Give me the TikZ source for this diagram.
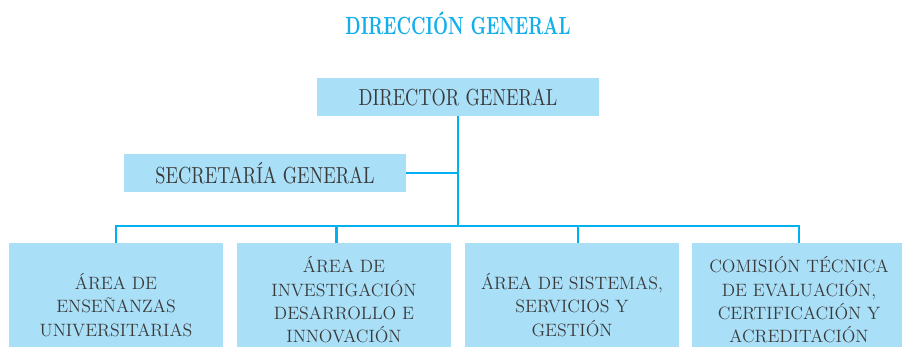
\documentclass[tikz,border=0pt]{standalone}
\usepackage{fontspec}
\newfontfamily\tallfont{lmroman10-regular.otf}[FakeStretch=0.79]
\newfontfamily\headfont{lmroman10-bold.otf}[FakeStretch=0.7]
\definecolor{boxblue}{RGB}{170,223,248}
\definecolor{lineblue}{RGB}{0,176,240}
\definecolor{titleblue}{RGB}{20,174,236}
\definecolor{textgray}{RGB}{58,58,58}
\begin{document}
\begin{tikzpicture}[
    x=0.025cm, y=-0.025cm,
    every node/.style={align=center, text=textgray, inner sep=0pt},
    head box/.style={fill=boxblue, minimum width=7.05cm, minimum height=0.95cm,
      font=\tallfont\fontsize{16.5}{18}\selectfont},
    area box/.style={fill=boxblue, minimum width=5.35cm, minimum height=3.1cm,
      font=\fontsize{12.7}{16.6}\selectfont},
    link/.style={draw=lineblue, line width=2pt},
    ]
\clip (0,0) rectangle (902,347);
\node[text=titleblue, font=\headfont\fontsize{17.7}{20}\selectfont] (title) at (458,23) {DIRECCIÓN GENERAL};
\node[head box] (director) at (458,97) {DIRECTOR GENERAL};
\node[head box] (secretaria) at (265,173) {SECRETARÍA GENERAL};
\node[area box] (ensenanzas) at (116,305) {ÁREA DE\\ENSEÑANZAS\\UNIVERSITARIAS};
\node[area box, minimum height=2.85cm] (investigacion) at (344,300) {ÁREA DE\\INVESTIGACIÓN\\DESARROLLO E\\INNOVACIÓN};
\node[area box] (sistemas) at (572,305) {ÁREA DE SISTEMAS,\\SERVICIOS Y\\GESTIÓN};
\node[area box, minimum height=2.85cm] (comision) at (799,300) {COMISIÓN TÉCNICA\\DE EVALUACIÓN,\\CERTIFICACIÓN Y\\ACREDITACIÓN};
\coordinate (bus) at (458,226);
\draw[link] (director.south) -- (bus);
\draw[link] (secretaria.east) -- (secretaria.east -| director.south);
\draw[link] (ensenanzas.north) |- (bus) -| (comision.north);
\draw[link] ([xshift=-0.18cm]investigacion.north) -- ([xshift=-0.18cm]investigacion.north |- bus);
\draw[link] ([xshift=0.15cm]sistemas.north) -- ([xshift=0.15cm]sistemas.north |- bus);
\end{tikzpicture}
\end{document}
